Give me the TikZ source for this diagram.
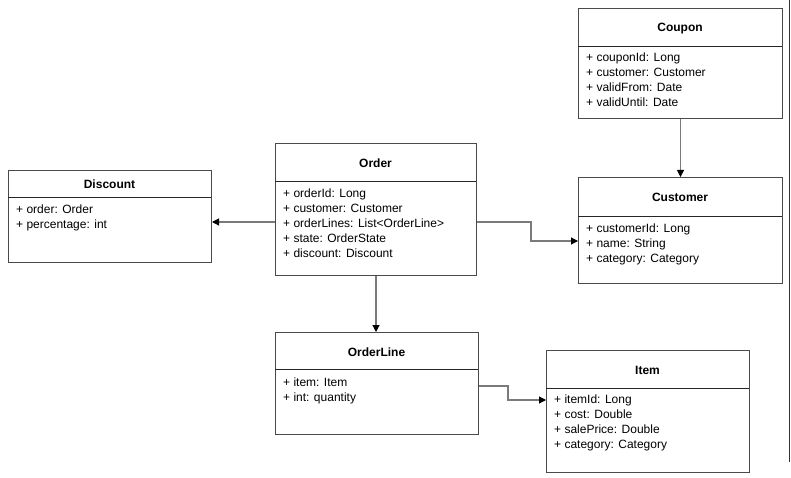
\documentclass[tikz,border=0pt]{standalone}
\usepackage{fontspec}
\setmainfont{Liberation Sans}
\usetikzlibrary{arrows.meta}
\definecolor{bordergray}{HTML}{4A4A4A}
\definecolor{conngray}{HTML}{7A7A7A}
\tikzset{
  cls/.style={draw=bordergray, line width=1pt, anchor=north west, inner sep=0pt, fill=white},
  sepline/.style={draw=black!85, line width=1pt},
  ttl/.style={font=\fontsize{12}{14}\selectfont\bfseries, inner sep=0pt, text height=8.5pt, text depth=2.5pt, yshift=-2pt},
  attr/.style={font=\fontsize{12}{14}\selectfont, inner sep=0pt, anchor=west, text height=8.5pt, text depth=2.5pt, yshift=-2pt},
  conn/.style={draw=conngray, line width=1.1pt, -{Triangle[length=7pt,width=7pt,fill=black,color=black]}},
}
\begin{document}
\begin{tikzpicture}[x=1pt,y=-1pt]
\useasboundingbox (0,0) rectangle (791,478);
% Coupon
\node[cls, minimum width=204pt, minimum height=110pt] (coupon) at (578,8) {};
\draw[sepline] (578,47) -- (782,47);
\node[ttl] (couponT) at (680,27) {Coupon};
\node[attr] (c1) at (586,57) {+ couponId: Long};
\node[attr] (c2) at (586,72) {+ customer: Customer};
\node[attr] (c3) at (586,87) {+ validFrom: Date};
\node[attr] (c4) at (586,102) {+ validUntil: Date};
% Customer
\node[cls, minimum width=204pt, minimum height=106pt] (customer) at (578,177) {};
\draw[sepline] (578,216) -- (782,216);
\node[ttl] (customerT) at (680,196) {Customer};
\node[attr] (u1) at (586,227) {+ customerId: Long};
\node[attr] (u2) at (586,242) {+ name: String};
\node[attr] (u3) at (586,257) {+ category: Category};
% Order
\node[cls, minimum width=201pt, minimum height=132pt] (order) at (275,143) {};
\draw[sepline] (275,182) -- (476,182);
\node[ttl] (orderT) at (375.5,163) {Order};
\node[attr] (o1) at (283,192) {+ orderId: Long};
\node[attr] (o2) at (283,207) {+ customer: Customer};
\node[attr] (o3) at (283,222) {+ orderLines: List<OrderLine>};
\node[attr] (o4) at (283,237) {+ state: OrderState};
\node[attr] (o5) at (283,252) {+ discount: Discount};
% Discount
\node[cls, minimum width=203pt, minimum height=92pt] (discount) at (8,170) {};
\draw[sepline] (8,198) -- (211,198);
\node[ttl] (discountT) at (109.5,184) {Discount};
\node[attr] (d1) at (16,208) {+ order: Order};
\node[attr] (d2) at (16,224) {+ percentage: int};
% OrderLine
\node[cls, minimum width=203pt, minimum height=102pt] (orderline) at (275,332) {};
\draw[sepline] (275,369) -- (478,369);
\node[ttl] (orderlineT) at (376.5,351) {OrderLine};
\node[attr] (l1) at (283,381) {+ item: Item};
\node[attr] (l2) at (283,396) {+ int: quantity};
% Item
\node[cls, minimum width=203pt, minimum height=122pt] (item) at (546,350) {};
\draw[sepline] (546,388) -- (749,388);
\node[ttl] (itemT) at (647.5,369) {Item};
\node[attr] (i1) at (554,398) {+ itemId: Long};
\node[attr] (i2) at (554,413) {+ cost: Double};
\node[attr] (i3) at (554,428) {+ salePrice: Double};
\node[attr] (i4) at (554,443) {+ category: Category};
% helper coordinates
\coordinate (y222) at (0,222);
\coordinate (y241) at (0,241);
\coordinate (y386) at (0,386);
\coordinate (y400) at (0,400);
\coordinate (bendA) at (531,222);
\coordinate (bendB) at (508,386);
% connectors
\draw[conn] (coupon.south) -- (customer.north);
\draw[conn] (order.west |- y222) -- (discount.east |- y222);
\draw[conn] (order.east |- y222) -- (bendA) |- (customer.west |- y241);
\draw[conn] (order.south) -- (order.south |- orderline.north);
\draw[conn] (orderline.east |- y386) -- (bendB) |- (item.west |- y400);
% right edge line
\coordinate (edgeTop) at (789.5,0);
\coordinate (edgeBot) at (789.5,462);
\draw[draw=black!80, line width=1pt] (edgeTop) -- (edgeBot);
\end{tikzpicture}
\end{document}
